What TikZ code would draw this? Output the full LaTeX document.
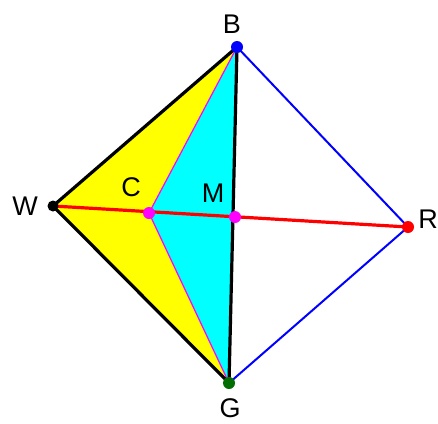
\documentclass[tikz,border=0pt]{standalone}
\usepackage{fontspec}
\setmainfont{Liberation Sans}
\definecolor{pcyan}{RGB}{0,255,255}
\definecolor{pyellow}{RGB}{255,255,0}
\definecolor{pmag}{RGB}{255,0,255}
\definecolor{pblue}{RGB}{0,0,255}
\definecolor{pred}{RGB}{255,0,0}
\definecolor{pgreen}{RGB}{0,110,0}
\begin{document}
\begin{tikzpicture}[x=1pt,y=-1pt,
  lbl/.style={font=\fontsize{27}{30}\selectfont, inner sep=0pt},
  dot/.style={circle, inner sep=0pt, minimum size=12pt},
  edgeblack/.style={black, line width=3.2pt},
  edgeblue/.style={pblue, line width=2pt},
  edgered/.style={pred, line width=3.2pt},
  edgemag/.style={pmag, line width=1.2pt}]
\useasboundingbox (0,0) rectangle (438,423);
\coordinate (B) at (237,47);
\coordinate (W) at (53,206);
\coordinate (R) at (408,227);
\coordinate (G) at (229,383);
\coordinate (C) at (149,213);
\coordinate (M) at (235,217);
% fills
\fill[pyellow] (W) -- (B) -- (C) -- (G) -- cycle;
\fill[pcyan] (B) -- (C) -- (G) -- cycle;
% edges
\draw[edgemag] (B) -- (C) -- (G);
\draw[edgeblue] (B) -- (R) -- (G);
\draw[edgeblack] (W) -- (B);
\draw[edgeblack] (W) -- (G);
\draw[edgeblack] (B) -- (G);
\draw[edgered] (W) -- (R);
% dots
\node[dot, fill=pblue] (Bd) at (B) {};
\node[dot, fill=black, minimum size=11pt] (Wd) at (W) {};
\node[dot, fill=pred] (Rd) at (R) {};
\node[dot, fill=pgreen] (Gd) at (G) {};
\node[dot, fill=pmag] (Cd) at (C) {};
\node[dot, fill=pmag] (Md) at (M) {};
% labels
\node[lbl] (Bl) at (232,24) {B};
\node[lbl] (Wl) at (25,206) {W};
\node[lbl] (Cl) at (131,187) {C};
\node[lbl] (Ml) at (213,193) {M};
\node[lbl] (Rl) at (428,219) {R};
\node[lbl] (Gl) at (230,408) {G};
\end{tikzpicture}
\end{document}
